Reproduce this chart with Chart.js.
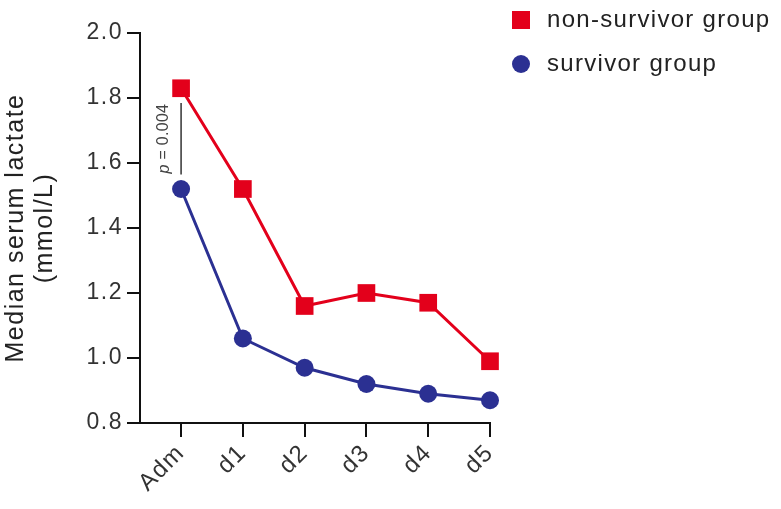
<!DOCTYPE html>
<html lang="en">
<head>
    <meta charset="UTF-8">
    <title>Median serum lactate</title>
    <script src="https://cdn.jsdelivr.net/npm/chart.js"></script>
    <style>
        html, body { margin: 0; padding: 0; background: #fff; }
        .chart-container { width: 781px; height: 509px; }
    </style>
</head>
<body>
    <div class="chart-container">
        <canvas id="lactateChart"></canvas>
    </div>

    <script>
        // Data
        const days = ['Adm', 'd1', 'd2', 'd3', 'd4', 'd5'];
        const nonSurvivor = [1.83, 1.52, 1.16, 1.20, 1.17, 0.99];
        const survivor = [1.52, 1.06, 0.97, 0.92, 0.89, 0.87];
        const yTicks = [0.8, 1.0, 1.2, 1.4, 1.6, 1.8, 2.0];
        const pLabel = 'p = 0.004';

        const RED = '#e3001b';
        const BLUE = '#2b3092';
        const FONT = '"Liberation Sans", Arial, Helvetica, sans-serif';
        const SPACING = '1.5px';

        const toPoints = vals => vals.map((v, i) => ({ x: i, y: v }));

        // the original font is a loosely tracked Helvetica
        const tracking = {
            id: 'tracking',
            beforeLayout(chart) { chart.ctx.letterSpacing = SPACING; },
            beforeDraw(chart) { chart.ctx.letterSpacing = SPACING; }
        };

        // legend at top right + p value bracket
        const extras = {
            id: 'extras',
            afterDatasetsDraw(chart) {
                const ctx = chart.ctx;
                const x = chart.scales.x, y = chart.scales.y;
                ctx.save();
                ctx.letterSpacing = '0.3px';

                // p-value line and label
                const px = x.getPixelForValue(0);
                ctx.strokeStyle = '#333';
                ctx.lineWidth = 1.5;
                ctx.beginPath();
                ctx.moveTo(px, y.getPixelForValue(1.785));
                ctx.lineTo(px, y.getPixelForValue(1.565));
                ctx.stroke();

                ctx.translate(px - 17, y.getPixelForValue(1.675));
                ctx.rotate(-Math.PI / 2);
                ctx.fillStyle = '#444';
                ctx.textBaseline = 'middle';
                ctx.textAlign = 'left';
                ctx.font = 'italic 16px ' + FONT;
                const pw = ctx.measureText('p').width;
                ctx.font = '16px ' + FONT;
                const rest = pLabel.slice(1);
                const total = pw + ctx.measureText(rest).width;
                ctx.font = 'italic 16px ' + FONT;
                ctx.fillText('p', -total / 2, 0);
                ctx.font = '16px ' + FONT;
                ctx.fillText(rest, -total / 2 + pw, 0);
                ctx.restore();

                // legend
                ctx.save();
                ctx.letterSpacing = '1.3px';
                ctx.font = '24px ' + FONT;
                ctx.textBaseline = 'middle';
                ctx.textAlign = 'left';
                const ds = chart.data.datasets;
                ctx.fillStyle = RED;
                ctx.fillRect(512, 11, 18, 18);
                ctx.fillStyle = '#222';
                ctx.fillText(ds[0].label, 547, 20);
                ctx.fillStyle = BLUE;
                ctx.beginPath();
                ctx.arc(521, 64, 9, 0, Math.PI * 2);
                ctx.fill();
                ctx.fillStyle = '#222';
                ctx.fillText(ds[1].label, 547, 64);
                ctx.restore();
            }
        };

        const ctx = document.getElementById('lactateChart').getContext('2d');
        new Chart(ctx, {
            type: 'line',
            data: {
                datasets: [{
                    label: 'non-survivor group',
                    data: toPoints(nonSurvivor),
                    borderColor: RED,
                    backgroundColor: RED,
                    borderWidth: 3,
                    pointStyle: 'rect',
                    pointRadius: 12.5,
                    pointBorderWidth: 0,
                    clip: false
                }, {
                    label: 'survivor group',
                    data: toPoints(survivor),
                    borderColor: BLUE,
                    backgroundColor: BLUE,
                    borderWidth: 3,
                    pointStyle: 'circle',
                    pointRadius: 9,
                    pointBorderWidth: 0,
                    clip: false
                }]
            },
            options: {
                responsive: true,
                maintainAspectRatio: false,
                animation: false,
                layout: { padding: { top: 33, right: 291, left: 0, bottom: 0 } },
                plugins: {
                    legend: { display: false },
                    tooltip: { enabled: false }
                },
                scales: {
                    x: {
                        type: 'linear',
                        min: -0.665,
                        max: 5,
                        afterFit(scale) { scale.height = 86; },
                        afterBuildTicks(scale) {
                            scale.ticks = days.map((d, i) => ({ value: i }));
                        },
                        border: { display: true, color: '#111', width: 2 },
                        grid: { drawOnChartArea: false, drawTicks: true, tickLength: 14, color: '#111', lineWidth: 2 },
                        ticks: {
                            callback: v => days[v],
                            maxRotation: 45,
                            minRotation: 45,
                            padding: 2,
                            color: '#333',
                            font: { family: FONT, size: 24 }
                        }
                    },
                    y: {
                        min: 0.8,
                        max: 2.0,
                        afterFit(scale) { scale.width = 140; },
                        afterBuildTicks(scale) {
                            scale.ticks = yTicks.map(v => ({ value: v }));
                        },
                        border: { display: true, color: '#111', width: 2 },
                        grid: { drawOnChartArea: false, drawTicks: true, tickLength: 13, color: '#111', lineWidth: 2 },
                        ticks: {
                            callback: v => v.toFixed(1),
                            padding: 4,
                            color: '#333',
                            font: { family: FONT, size: 23 }
                        },
                        title: {
                            display: true,
                            text: ['Median serum lactate', '(mmol/L)'],
                            color: '#222',
                            font: { family: FONT, size: 25, lineHeight: 1.15 },
                            padding: { top: 2, bottom: 0 }
                        }
                    }
                }
            },
            plugins: [tracking, extras]
        });
    </script>
</body>
</html>
